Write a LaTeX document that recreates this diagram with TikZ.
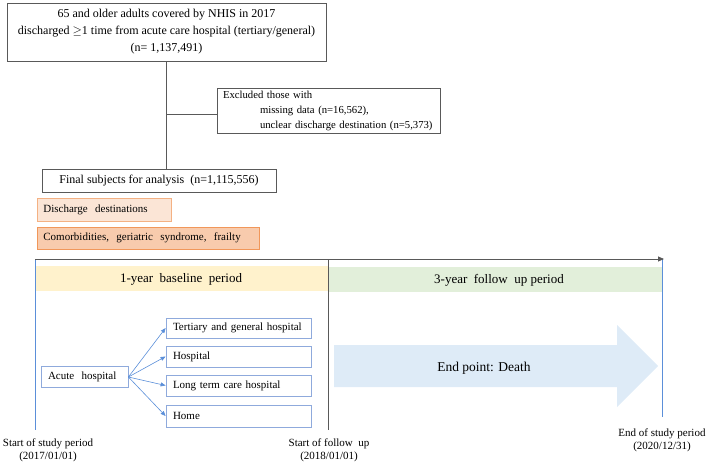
\documentclass[tikz,border=0pt]{standalone}
\usepackage{fontspec}
\setmainfont{Liberation Serif}
\usetikzlibrary{arrows.meta}
\definecolor{boxgray}{HTML}{595959}
\definecolor{orfill}{HTML}{FBE5D6}
\definecolor{orfilltwo}{HTML}{F8CBAD}
\definecolor{orline}{HTML}{F4B183}
\definecolor{orlinetwo}{HTML}{ED7D31}
\definecolor{yelband}{HTML}{FFF2CC}
\definecolor{grnband}{HTML}{E2EFDA}
\definecolor{blline}{HTML}{5B8FD9}
\definecolor{blbox}{HTML}{8FAADC}
\definecolor{blarrow}{HTML}{DEEBF7}
\tikzset{
  txt/.style={font=\fontsize{11}{13.5}\selectfont, inner sep=0pt},
  graybox/.style={draw=boxgray, line width=0.8pt, fill=white, txt, align=center},
  orbox/.style={draw=orline, fill=orfill, line width=0.8pt, txt, anchor=west, text width=#1, inner xsep=6pt, align=left},
  bluebox/.style={draw=blbox, line width=0.8pt, fill=white, txt, minimum height=21pt, align=left},
  blarr/.style={draw=blline, line width=0.6pt, -{Triangle[length=5pt,width=4pt]}},
  lab/.style={font=\fontsize{11}{13}\selectfont, align=center, inner sep=0pt}
}
\begin{document}
\begin{tikzpicture}[x=1pt,y=-1pt]
\useasboundingbox (0,0) rectangle (708,465);
% top flow
\node[graybox, minimum width=319pt, minimum height=58pt, font=\fontsize{12}{17}\selectfont] (top) at (166.5,32)
  {65 and older adults covered by NHIS in 2017\\discharged $\geq$1 time from acute care hospital (tertiary/general)\\(n= 1,137,491)};
\node[graybox, minimum width=223pt, minimum height=45pt, text width=211pt, inner xsep=6pt, align=left, font=\fontsize{10.7}{15}\selectfont] (excl) at (328.5,111)
  {\mbox{Excluded those with}\\\mbox{\hspace*{37pt}missing data (n=16,562),}\\\mbox{\hspace*{37pt}unclear discharge destination (n=5,373)}};
\node[graybox, minimum width=234pt, minimum height=23pt, font=\fontsize{12}{14}\selectfont] (final) at (159,180.5)
  {Final subjects for analysis\ \ (n=1,115,556)};
\draw[boxgray, line width=0.8pt] (top.south) -- (top.south |- final.north);
\coordinate (junc) at (166.5,114);
\draw[boxgray, line width=0.8pt] (junc) -- (junc -| excl.west);
% orange boxes
\node[orbox=122pt, minimum height=23pt] (dest) at (37,209.5) {Discharge\ \ destinations};
\node[orbox=210pt, draw=orlinetwo!80, fill=orfilltwo, minimum height=22pt] (comor) at (37,238) {Comorbidities,\ \ geriatric\ \ syndrome,\ \ frailty};
% bands
\fill[yelband] (35,266) rectangle (328,291);
\fill[grnband] (328,267) rectangle (662,292);
\node[txt, font=\fontsize{13}{15}\selectfont] (base) at (181,279) {1-year\ \ baseline\ \ period};
\node[txt, font=\fontsize{13}{15}\selectfont] (fup) at (499,280) {3-year\ \ follow\ \ up period};
% timeline
\coordinate (tl) at (35,259);
\coordinate (tm) at (328,259);
\coordinate (tr) at (662,259);
\coordinate (bl) at (35,430);
\coordinate (bm) at (328,430);
\coordinate (br) at (662,417);
\draw[blline, line width=0.8pt] (tl) -- (bl);
\draw[boxgray, line width=0.8pt] (tm) -- (bm);
\draw[blline, line width=0.8pt] (tr) -- (br);
\draw[boxgray, line width=0.8pt, -{Triangle[length=6pt,width=5pt]}] (tl) -- (664,259);
% big arrow
\fill[blarrow] (334,345) -- (617,345) -- (617,325) -- (658,366) -- (617,407) -- (617,387) -- (334,387) -- cycle;
\node[txt, font=\fontsize{13.5}{15}\selectfont] (death) at (484,368) {End point: Death};
% destination boxes
\node[bluebox, minimum width=87pt, inner xsep=7pt, text width=73pt] (acute) at (84.5,377) {Acute\ \ hospital};
\node[bluebox, minimum width=145pt, minimum height=20pt, inner xsep=7pt, text width=131pt] (tert) at (238.5,328) {Tertiary and general hospital};
\node[bluebox, minimum width=145pt, inner xsep=7pt, text width=131pt] (hosp) at (238.5,356.5) {Hospital};
\node[bluebox, minimum width=145pt, inner xsep=7pt, text width=131pt] (ltc) at (238.5,385.5) {Long term care hospital};
\node[bluebox, minimum width=145pt, minimum height=22pt, inner xsep=7pt, text width=131pt] (home) at (238.5,416) {Home};
\foreach \t in {tert,hosp,ltc,home} \draw[blarr] (acute.east) -- (\t.west);
% labels
\node[lab] (l1) at (48,450) {Start of study period\\(2017/01/01)};
\node[lab] (l2) at (329,450) {Start of follow\ \ up\\(2018/01/01)};
\node[lab] (l3) at (662,440) {End of study period\\(2020/12/31)};
\end{tikzpicture}
\end{document}
